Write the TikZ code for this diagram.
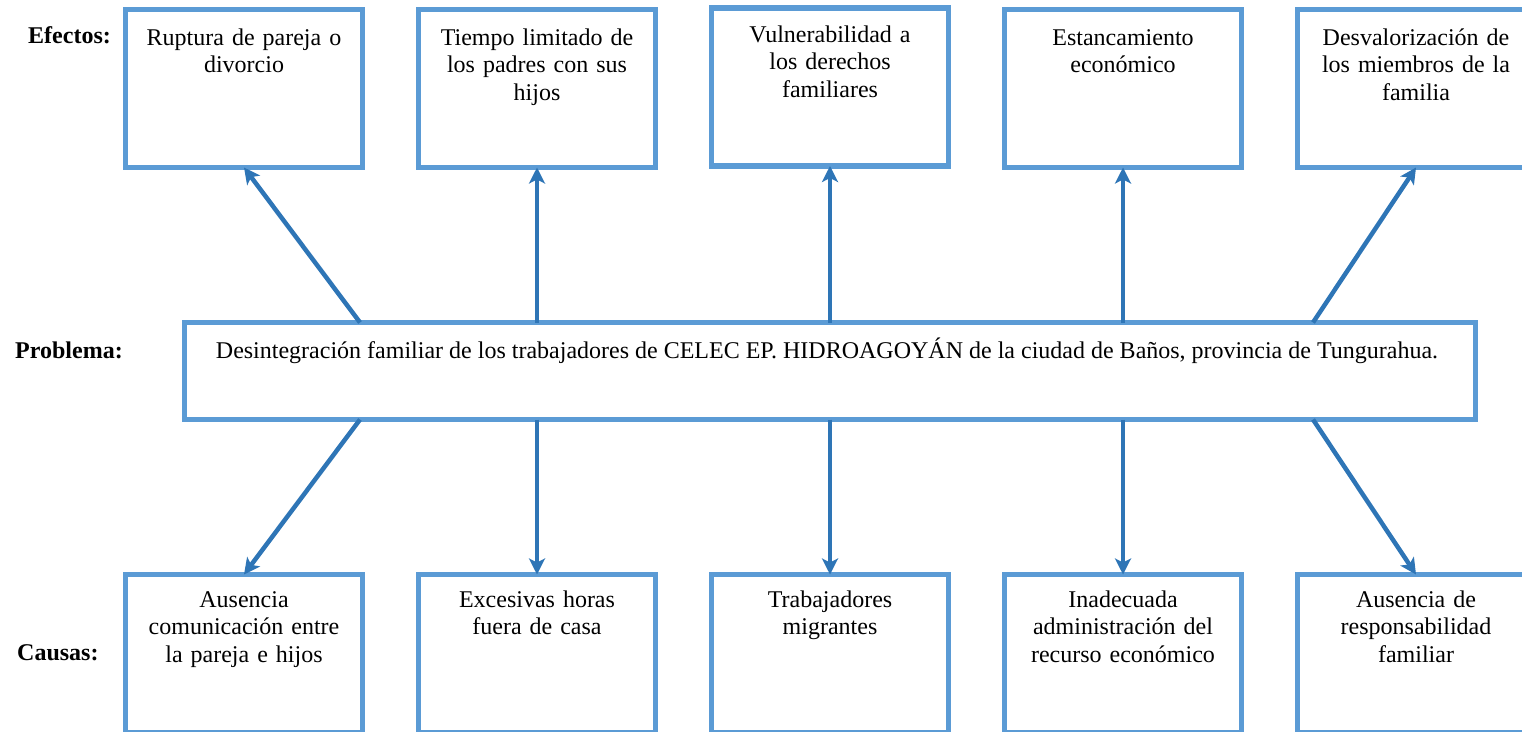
\documentclass[tikz,border=0pt]{standalone}
\usepackage{fontspec}
\setmainfont{Liberation Serif}
\usetikzlibrary{arrows.meta}
\definecolor{boxblue}{HTML}{5B9BD5}
\definecolor{arrblue}{HTML}{2E75B6}
\begin{document}
\begin{tikzpicture}[x=1pt,y=-1pt,
  box/.style={draw=boxblue,line width=5.5pt,outer sep=0pt,inner sep=0pt,minimum width=237pt,minimum height=158pt},
  txt/.style={anchor=base,text width=230pt,align=center,inner sep=0pt,font=\fontsize{24}{27.6}\selectfont},
  lbl/.style={anchor=base west,inner sep=0pt,font=\fontsize{24}{27.6}\selectfont\bfseries},
  arr/.style={draw=arrblue,line width=4.5pt,-{Stealth[length=16pt,width=16pt,inset=4pt]}}]
\useasboundingbox (0,0) rectangle (1522,731);

% labels
\node[lbl] (lef) at (28,43) {Efectos:};
\node[lbl] (lpr) at (15,358) {Problema:};
\node[lbl] (lca) at (17,660) {Causas:};

% effect boxes
\node[box] (e1) at (244,88.5) {};
\node[box] (e2) at (537,88.5) {};
\node[box] (e3) at (830,87) {};
\node[box] (e4) at (1123,88.5) {};
\node[box] (e5) at (1416,88.5) {};
\node[txt] (e1t) at (244,45) {Ruptura de pareja o\\divorcio};
\node[txt] (e2t) at (537,45) {Tiempo limitado de\\los padres con sus\\hijos};
\node[txt] (e3t) at (830,42) {Vulnerabilidad a\\los derechos\\familiares};
\node[txt] (e4t) at (1123,45) {Estancamiento\\económico};
\node[txt] (e5t) at (1416,45) {Desvalorización de\\los miembros de la\\familia};

% problem box
\node[draw=boxblue,line width=5.5pt,outer sep=0pt,inner sep=0pt,minimum width=1291pt,minimum height=97pt] (m) at (830,371) {};
\node[anchor=base,inner sep=0pt,font=\fontsize{24}{27.6}\selectfont] (mt) at (827,358) {Desintegración familiar de los trabajadores de CELEC EP. HIDROAGOYÁN de la ciudad de Baños, provincia de Tungurahua.};

% cause boxes
\node[box] (c1) at (244,653.5) {};
\node[box] (c2) at (537,653.5) {};
\node[box] (c3) at (830,653.5) {};
\node[box] (c4) at (1123,653.5) {};
\node[box] (c5) at (1416,653.5) {};
\node[txt] (c1t) at (244,607) {Ausencia\\comunicación entre\\la pareja e hijos};
\node[txt] (c2t) at (537,607) {Excesivas horas\\fuera de casa};
\node[txt] (c3t) at (830,607) {Trabajadores\\migrantes};
\node[txt] (c4t) at (1123,607) {Inadecuada\\administración del\\recurso económico};
\node[txt] (c5t) at (1416,607) {Ausencia de\\responsabilidad\\familiar};

% connector start points on the problem box
\coordinate (mtl) at (360,322.5);
\coordinate (mtr) at (1313,322.5);
\coordinate (mbl) at (360,419.5);
\coordinate (mbr) at (1313,419.5);

% arrows to effects
\draw[arr] (mtl) -- (e1.south);
\draw[arr] (e2.south |- m.north) -- (e2.south);
\draw[arr] (e3.south |- m.north) -- (e3.south);
\draw[arr] (e4.south |- m.north) -- (e4.south);
\draw[arr] (mtr) -- (e5.south);

% arrows to causes
\draw[arr] (mbl) -- (c1.north);
\draw[arr] (c2.north |- m.south) -- (c2.north);
\draw[arr] (c3.north |- m.south) -- (c3.north);
\draw[arr] (c4.north |- m.south) -- (c4.north);
\draw[arr] (mbr) -- (c5.north);
\end{tikzpicture}
\end{document}
